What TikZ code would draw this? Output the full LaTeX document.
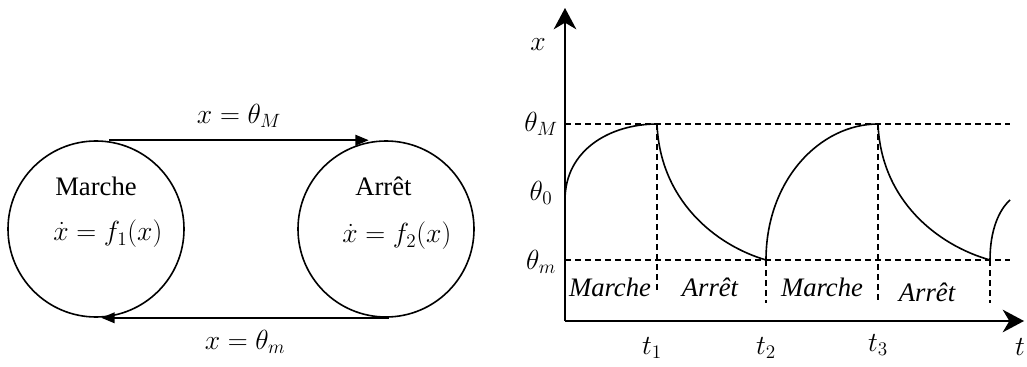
\documentclass[tikz,border=0pt]{standalone}
\usepackage{amsmath}
\usepackage{fontspec}
\setmainfont{Liberation Serif}
\usepackage{tikz}
\usetikzlibrary{arrows.meta,calc}

\begin{document}
\begin{tikzpicture}[
  x=0.75pt, y=-0.75pt,
  font=\fontsize{20}{24}\selectfont,
  state/.style={draw,line width=1.2pt,circle,minimum size=132pt,inner sep=0pt},
  txt/.style={inner sep=0pt,anchor=west},
  e/.style={-{Triangle[length=10pt,width=8pt]},line width=1.2pt},
  axis/.style={-{Stealth[length=16pt,width=17pt,inset=5pt]},line width=1.2pt},
  lvl/.style={dashed,dash pattern=on 4.5pt off 3pt,line width=1pt},
  curve/.style={line width=1.2pt},
  lbl/.style={inner sep=1pt},
]
\useasboundingbox (0,0) rectangle (1027,367);

% Left: the two states and the switching conditions.
\node[state] (marche) at (96,229) {};
\node[state] (arret)  at (386,229) {};
\node[txt] (tm) at (55,186)  {Marche};
\node[txt] (f1) at (53,234)  {$\dot{x} = f_1(x)$};
\node[txt] (ta) at (355,186) {Arrêt};
\node[txt] (f2) at (342,236) {$\dot{x} = f_2(x)$};

\draw[e] ([xshift=10]marche.north) -- ([xshift=-13]arret.north)
  node[lbl,midway,above=8pt] (cM) {$x = \theta_M$};
\draw[e] ([xshift=2]arret.south) -- ([xshift=4]marche.south)
  node[lbl,midway,below=8pt] (cm) {$x = \theta_m$};

% Right: time chart of x between the two thresholds.
\coordinate (o)    at (565,321);
\coordinate (ytop) at (565,8);
\coordinate (xend) at (1024,321);
\draw[axis] (o) -- (ytop);
\draw[axis] (o) -- (xend);
\node[lbl] (xl) at (538,45)  {$x$};
\node[lbl] (tl) at (1020,347) {$t$};

\node[lbl] (thM) at (541,124) {$\theta_M$};
\node[lbl] (th0) at (541,193) {$\theta_0$};
\node[lbl] (thm) at (541,262) {$\theta_m$};
\draw[lvl] (565,124) -- (1010,124);
\draw[lvl] (565,260) -- (1010,260);

% switching instants
\coordinate (t1) at (657,124);
\coordinate (t2) at (766,260);
\coordinate (t3) at (878,124);
\coordinate (t4) at (990,260);
\draw[lvl] (t1) -- (657,293);
\draw[lvl] (t2) -- (766,303);
\draw[lvl] (t3) -- (878,303);
\draw[lvl] (t4) -- (990,303);
\node[lbl] (lt1) at (652,348) {$t_1$};
\node[lbl] (lt2) at (766,348) {$t_2$};
\node[lbl] (lt3) at (878,345) {$t_3$};

\draw[curve] (565,200) .. controls (565,150) and (610,124) .. (t1);
\draw[curve] (t1) .. controls (660,200) and (715,245) .. (t2);
\draw[curve] (t2) .. controls (766,180) and (820,124) .. (t3);
\draw[curve] (t3) .. controls (881,200) and (937,245) .. (t4);
\draw[curve] (t4) .. controls (990,230) and (999,210) .. (1010,200);

\node[lbl] (p1) at (610,287) {\itshape Marche};
\node[lbl] (p2) at (710,287) {\itshape Arrêt};
\node[lbl] (p3) at (822,287) {\itshape Marche};
\node[lbl] (p4) at (927,292) {\itshape Arrêt};
\end{tikzpicture}
\end{document}
